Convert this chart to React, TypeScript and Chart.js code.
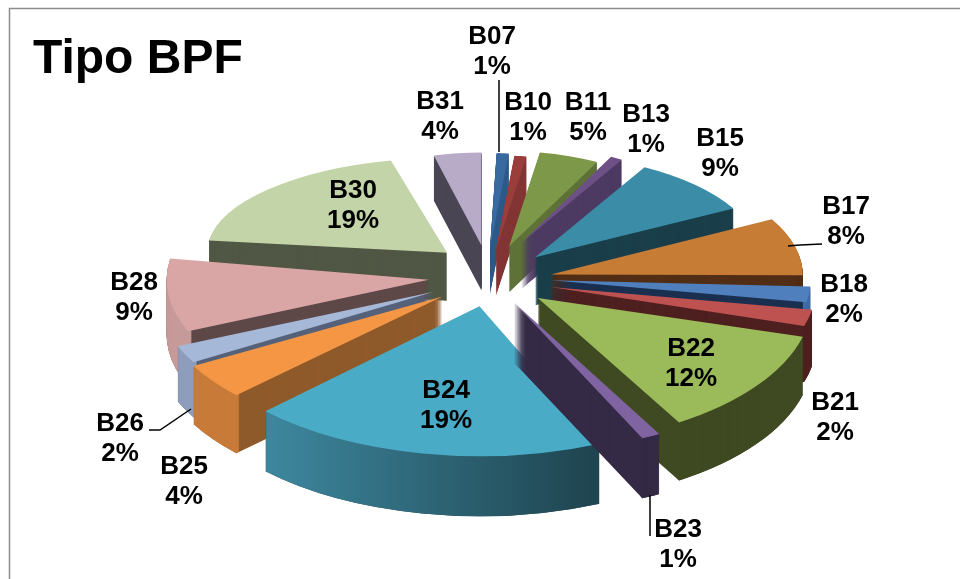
import React, { useEffect, useRef } from "react";
import { Chart, registerables } from "chart.js";

Chart.register(...registerables);

// ---- data ----
const labels = ["B07","B10","B11","B13","B15","B17","B18","B21","B22","B23","B24","B25","B26","B28","B30","B31"];
const values = [1,1,5,1,9,8,2,2,12,1,19,4,2,9,19,4];

// ---- appearance ----
const topColors  = ["#386aa0","#9a3e3c","#7d9848","#6c5086","#3b8ca6","#c77c35","#4f80bd","#bd5250","#9bba59","#8064a2","#4aabc6","#f49644","#a6b8d8","#d9a6a5","#c3d4a8","#b7abc8"];
const wallColors = ["#2e5a8a","#833535","#5e7238","#4d3a62","#1a3f4a","#512e15","#1b3050","#4f2020","#3f4a22","#342a45","#1f4550","#8f5a2b","#56627a","#5e4848","#505744","#4a4654"];
const rimColors  = ["#2e5a8a","#833535","#5e7238","#4d3a62","#1a3f4a","#512e15","#3f6ba3","#4f2020","#3f4a22","#342a45","#3f8ba3","#c87b39","#8e9dbb","#c79a9a","#505744","#4a4654"];
const rimEndColor24 = "#1f4550";

// perspective of the tilted pie, per slice (same order as labels)
const radiusX = [190,190,191,195,225,252,260,266,275,300,300,285,278,262,240,190];
const radiusY = [95,95,95,97,103,115,125,130,145,150,150,143,140,130,95,93];
const depths  = [46,46,46,46,48,50,50,56,58,60,60,58,55,55,48,45];
const explode = [60,60,67,74,64,60,58,59,54,51,53,65,67,67,75,71];
const nudgeX  = [-2,0,0,-3,0,4,5,5,8,3,0,5,5,7,14,0];
const nudgeY  = [-2,0,-2,-5,-3,0,-3,0,0,0,0,-4,-4,-5,-7,0];
const twist   = [0,0,0,0,-2,-2.5,0,0,-2,0,1.7,2.5,1.5,1,-1,-2];
const paintOrder = ["B31","B07","B10","B11","B13","B15","B30","B17","B28","B18","B26","B21","B25","B22","B24","B23"];

const BASE_RADIUS = 200;
const pieCenter = { x: 488, y: 280 };
const FONT = '"Liberation Sans", Arial, sans-serif';

const labelAnchors: Record<string, [number, number]> = {
  B07:[492,37],B10:[528,103],B11:[588,103],B13:[646,115],B15:[720,139],B17:[846,207],B18:[844,285],B21:[835,403],
  B22:[691,349],B23:[678,530],B24:[446,391],B25:[184,467],B26:[120,424],B28:[134,283],B30:[353,191],B31:[440,102],
};
const leaders: number[][][] = [
  [[499,80],[499,152]],
  [[788,246],[800,245],[822,244]],
  [[650,495],[650,536]],
  [[149,430],[160,430],[191,409]],
];

const tiltedPie = {
  id: "tiltedPie",
  beforeDraw(chart: any) {
    const { ctx, width, height } = chart;
    ctx.save();
    ctx.fillStyle = "#ffffff";
    ctx.fillRect(0, 0, width, height);
    ctx.strokeStyle = "#8c8c8c";
    ctx.lineWidth = 1.5;
    ctx.beginPath();
    ctx.moveTo(9.5, height);
    ctx.lineTo(9.5, 8.5);
    ctx.lineTo(width, 8.5);
    ctx.stroke();
    ctx.restore();
  },
  beforeDatasetsDraw(chart: any) {
    const { ctx } = chart;
    const meta = chart.getDatasetMeta(0);
    paintOrder.forEach((name) => {
      const i = labels.indexOf(name);
      const arc = meta.data[i];
      const baseOptions = arc.options;
      const eff = arc.outerRadius;
      const sx = radiusX[i] / eff;
      const sy = radiusY[i] / eff;
      const mid = (arc.startAngle + arc.endAngle) / 2;
      const dx = explode[i] * Math.cos(mid) + nudgeX[i];
      const dy = explode[i] * (radiusY[i] / radiusX[i]) * Math.sin(mid) + nudgeY[i];
      const paint = (k: number, color: any) => {
        ctx.save();
        ctx.translate(pieCenter.x + dx, pieCenter.y + dy + k);
        ctx.scale(sx, sy);
        ctx.rotate((twist[i] * Math.PI) / 180);
        ctx.translate(-arc.x, -arc.y);
        const o = Object.create(baseOptions);
        o.backgroundColor = color;
        o.borderWidth = 0;
        arc.options = o;
        arc.draw(ctx);
        ctx.restore();
      };
      for (let k = depths[i]; k >= 1; k--) paint(k, wallColors[i]);
      const inner = arc.innerRadius;
      arc.innerRadius = arc.outerRadius - 3;
      let rim: any = rimColors[i];
      if (name === "B24") {
        const g = ctx.createLinearGradient(arc.x - eff * 0.75, 0, arc.x + eff * 0.4, 0);
        g.addColorStop(0, rimColors[i]);
        g.addColorStop(1, rimEndColor24);
        rim = g;
      }
      for (let k = depths[i]; k >= 1; k--) paint(k, rim);
      arc.innerRadius = inner;
      paint(0, topColors[i]);
      arc.options = baseOptions;
    });
    return false;
  },
  afterDraw(chart: any) {
    const { ctx } = chart;
    ctx.save();
    ctx.strokeStyle = "#000000";
    ctx.lineWidth = 1.5;
    leaders.forEach((pts) => {
      ctx.beginPath();
      pts.forEach(([x, y], j) => (j ? ctx.lineTo(x, y) : ctx.moveTo(x, y)));
      ctx.stroke();
    });
    ctx.fillStyle = "#000000";
    ctx.font = `bold 26px ${FONT}`;
    ctx.textAlign = "center";
    ctx.textBaseline = "middle";
    labels.forEach((name, i) => {
      const [x, y] = labelAnchors[name];
      ctx.fillText(name, x, y);
      ctx.fillText(`${values[i]}%`, x, y + 30);
    });
    ctx.restore();
  },
};

export default function App() {
  const ref = useRef<HTMLCanvasElement>(null);
  useEffect(() => {
    const chart = new Chart(ref.current as HTMLCanvasElement, {
      type: "pie",
      data: {
        labels,
        datasets: [{ data: values, backgroundColor: topColors, borderWidth: 0 }],
      },
      options: {
        responsive: false,
        animation: false,
        events: [],
        rotation: 2,
        radius: BASE_RADIUS,
        layout: { padding: { left: 33 } },
        plugins: {
          legend: { display: false },
          tooltip: { enabled: false },
          title: {
            display: true,
            text: "Tipo BPF",
            align: "start",
            color: "#000000",
            font: { family: FONT, size: 48, weight: "bold" },
            padding: { top: 31, bottom: 0 },
          },
        },
      },
      plugins: [tiltedPie],
    } as any);
    return () => chart.destroy();
  }, []);
  return (
    <div style={{ position: "fixed", left: 0, top: 0, width: 960, height: 579, overflow: "hidden", background: "#fff" }}>
      <canvas ref={ref} width={960} height={579} style={{ display: "block" }} />
    </div>
  );
}
